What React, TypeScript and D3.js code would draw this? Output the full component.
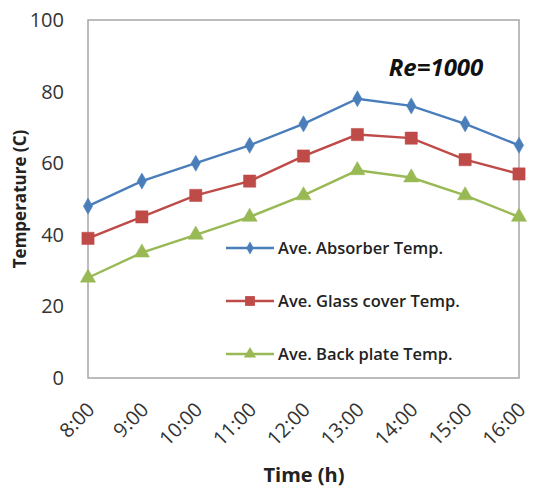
import React from "react";
import * as d3 from "d3";

const categories = ["8:00", "9:00", "10:00", "11:00", "12:00", "13:00", "14:00", "15:00", "16:00"];
const absorber = [48, 55, 60, 65, 71, 78, 76, 71, 65];
const glass = [39, 45, 51, 55, 62, 68, 67, 61, 57];
const backPlate = [28, 35, 40, 45, 51, 58, 56, 51, 45];
const yTicks = [0, 20, 40, 60, 80, 100];
const seriesNames = ["Ave. Absorber Temp.", "Ave. Glass cover Temp.", "Ave. Back plate Temp."];

const W = 533, H = 487;
const left = 88, right = 519, top = 20, bottom = 378;
const font = "'Open Sans', 'DejaVu Sans', sans-serif";

export default function App() {
  const x = d3.scalePoint<string>().domain(categories).range([left, right]);
  const y = d3.scaleLinear().domain([0, 100]).range([bottom, top]);
  const line = d3.line<number>().x((_, i) => x(categories[i])!).y((d) => y(d));
  const series = [
    { name: seriesNames[0], data: absorber, color: "#4a7ebb", marker: "diamond" },
    { name: seriesNames[1], data: glass, color: "#be4b48", marker: "square" },
    { name: seriesNames[2], data: backPlate, color: "#98b954", marker: "triangle" },
  ];
  const markerPath = (m: string) => {
    if (m === "diamond") return d3.symbol(d3.symbolDiamond, 75)()!;
    if (m === "square") return d3.symbol(d3.symbolSquare, 150)()!;
    return d3.symbol(d3.symbolTriangle, 100)()!;
  };
  const legendY = [248, 301, 354];
  return (
    <svg width={W} height={H} style={{ position: "absolute", left: 0, top: 0, background: "#fff" }}>
      <rect x={left} y={top} width={right - left} height={bottom - top} fill="none" stroke="#a6a6a6" strokeWidth={1.5} />
      {yTicks.map((t) => (
        <text key={t} x={64} y={y(t)} dy="0.35em" textAnchor="end" fontFamily={font} fontSize={20} fill="#333">
          {t}
        </text>
      ))}
      {categories.map((c) => (
        <text
          key={c}
          transform={`translate(${x(c)! + 3},${bottom + 28}) rotate(-45)`}
          textAnchor="end"
          dy="0.35em"
          fontFamily={font}
          fontSize={20}
          fill="#333"
        >
          {c}
        </text>
      ))}
      <text x={304} y={482} textAnchor="middle" fontFamily={font} fontWeight="bold" fontSize={20} fill="#222">
        Time (h)
      </text>
      <text transform={`translate(26,199) rotate(-90)`} textAnchor="middle" fontFamily={font} fontWeight="bold" fontSize={17} fill="#222">
        Temperature (C)
      </text>
      <text x={436} y={76} textAnchor="middle" fontFamily={font} fontWeight="bold" fontStyle="italic" fontSize={24} fill="#111">
        Re=1000
      </text>
      {series.map((s) => (
        <g key={s.name}>
          <path d={line(s.data)!} fill="none" stroke={s.color} strokeWidth={2.4} />
          {s.data.map((v, i) => (
            <path key={i} d={markerPath(s.marker)} transform={`translate(${x(categories[i])},${y(v)})`} fill={s.color} stroke={s.color} strokeWidth={0.5} />
          ))}
        </g>
      ))}
      {series.map((s, i) => (
        <g key={"lg" + s.name} transform={`translate(0,${legendY[i]})`}>
          <line x1={226} x2={274} y1={0} y2={0} stroke={s.color} strokeWidth={2.4} />
          <path d={markerPath(s.marker)} transform="translate(250,0) scale(0.8)" fill={s.color} />
          <text x={278} y={0} dy="0.35em" fontFamily={font} fontWeight="600" fontSize={16.5} fill="#222">
            {s.name}
          </text>
        </g>
      ))}
    </svg>
  );
}
